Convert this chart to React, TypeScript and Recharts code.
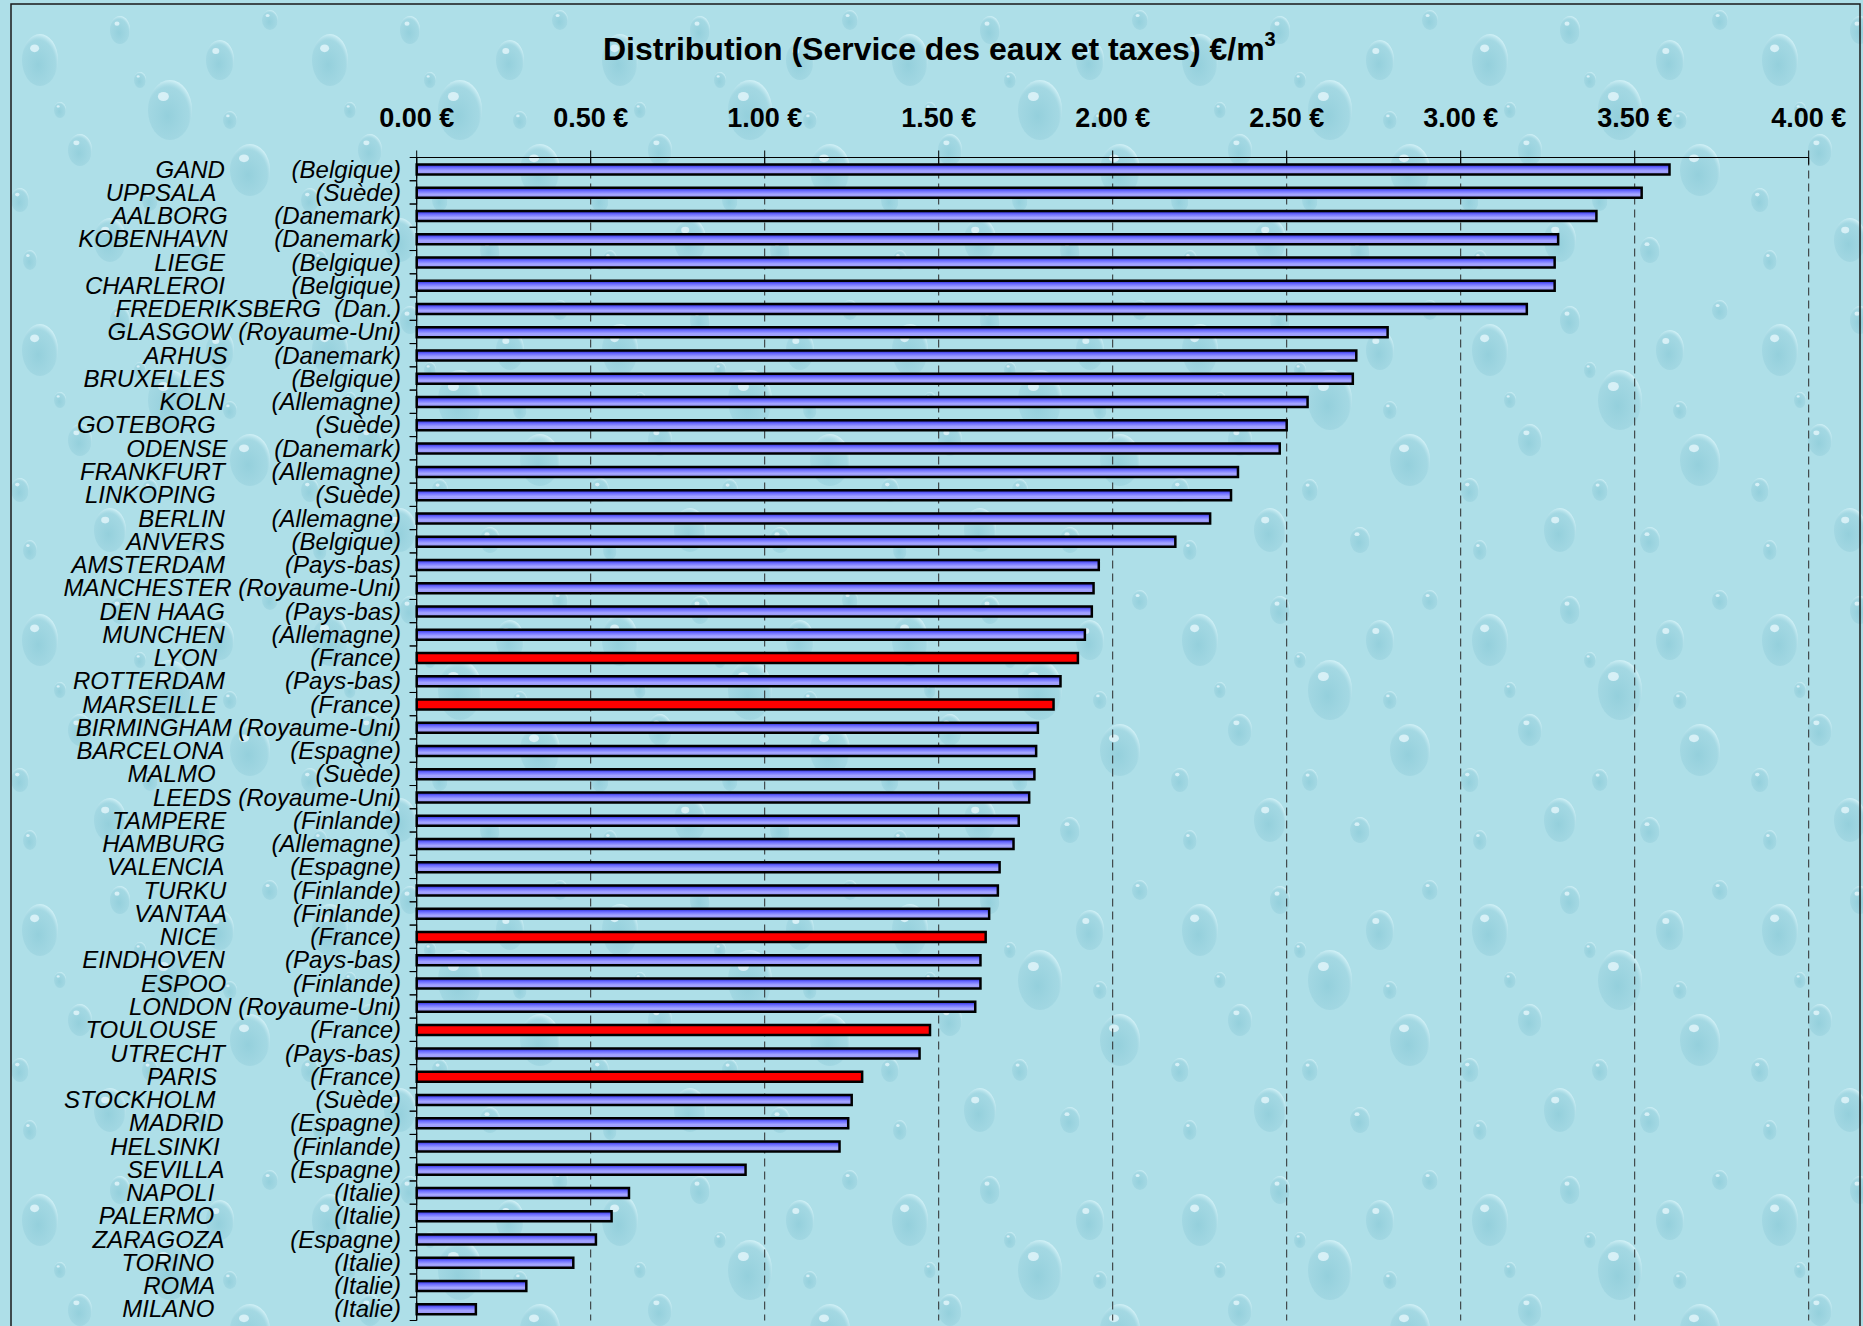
import React from 'react';
import { BarChart, Bar, XAxis, YAxis, CartesianGrid, Cell } from 'recharts';

const W = 1863;
const H = 1326;
const PLOT_LEFT = 416.7;
const PLOT_RIGHT = 1808.7;
const PLOT_TOP = 157.5;
const PLOT_BOTTOM = 1320.5;
const X_AXIS_H = 40;
const FONT = '"Liberation Sans", Arial, Helvetica, sans-serif';

const cities = [
  'GAND', 'UPPSALA', 'AALBORG', 'KOBENHAVN', 'LIEGE', 'CHARLEROI', 'FREDERIKSBERG', 'GLASGOW',
  'ARHUS', 'BRUXELLES', 'KOLN', 'GOTEBORG', 'ODENSE', 'FRANKFURT', 'LINKOPING', 'BERLIN',
  'ANVERS', 'AMSTERDAM', 'MANCHESTER', 'DEN HAAG', 'MUNCHEN', 'LYON', 'ROTTERDAM', 'MARSEILLE',
  'BIRMINGHAM', 'BARCELONA', 'MALMO', 'LEEDS', 'TAMPERE', 'HAMBURG', 'VALENCIA', 'TURKU',
  'VANTAA', 'NICE', 'EINDHOVEN', 'ESPOO', 'LONDON', 'TOULOUSE', 'UTRECHT', 'PARIS',
  'STOCKHOLM', 'MADRID', 'HELSINKI', 'SEVILLA', 'NAPOLI', 'PALERMO', 'ZARAGOZA', 'TORINO',
  'ROMA', 'MILANO',
];

const countries = [
  'Belgique', 'Suède', 'Danemark', 'Danemark', 'Belgique', 'Belgique', 'Dan.', 'Royaume-Uni',
  'Danemark', 'Belgique', 'Allemagne', 'Suède', 'Danemark', 'Allemagne', 'Suède', 'Allemagne',
  'Belgique', 'Pays-bas', 'Royaume-Uni', 'Pays-bas', 'Allemagne', 'France', 'Pays-bas', 'France',
  'Royaume-Uni', 'Espagne', 'Suède', 'Royaume-Uni', 'Finlande', 'Allemagne', 'Espagne', 'Finlande',
  'Finlande', 'France', 'Pays-bas', 'Finlande', 'Royaume-Uni', 'France', 'Pays-bas', 'France',
  'Suède', 'Espagne', 'Finlande', 'Espagne', 'Italie', 'Italie', 'Espagne', 'Italie',
  'Italie', 'Italie',
];

// number of blank characters between city and country in the original label text
const labelSpaces = [
  10, 15, 7, 7, 10, 10, 2, 1,
  7, 10, 7, 15, 7, 7, 15, 7,
  10, 9, 1, 9, 7, 14, 9, 14,
  1, 10, 15, 1, 10, 7, 10, 10,
  10, 14, 9, 10, 1, 14, 9, 14,
  15, 10, 11, 10, 18, 18, 10, 18,
  18, 18,
];

const values = [
  3.60, 3.52, 3.39, 3.28, 3.27, 3.27, 3.19, 2.79,
  2.70, 2.69, 2.56, 2.50, 2.48, 2.36, 2.34, 2.28,
  2.18, 1.96, 1.945, 1.94, 1.92, 1.90, 1.85, 1.83,
  1.785, 1.78, 1.775, 1.76, 1.73, 1.715, 1.675, 1.67,
  1.645, 1.635, 1.62, 1.62, 1.605, 1.475, 1.445, 1.28,
  1.25, 1.24, 1.215, 0.945, 0.61, 0.56, 0.515, 0.45,
  0.315, 0.17,
];

const xTicks = [0, 0.5, 1, 1.5, 2, 2.5, 3, 3.5, 4];
const highlightCountry = 'France';
const titleText = 'Distribution (Service des eaux et taxes) €/m';

const data = cities.map((c, i) => ({
  label: c + ' '.repeat(labelSpaces[i]) + '(' + countries[i] + ')',
  country: countries[i],
  value: values[i],
}));

const BAND = (PLOT_BOTTOM - PLOT_TOP) / cities.length;

const XTick = (props: any) => {
  const { x, payload } = props;
  const y = PLOT_TOP;
  return (
    <g>
      <line x1={x} x2={x} y1={y - 7} y2={y + 7} stroke="#000" strokeWidth={1} />
      <text x={x} y={y - 31} textAnchor="middle" fontFamily={FONT} fontWeight="bold" fontSize={27} fill="#000">
        {payload.value.toFixed(2) + ' €'}
      </text>
    </g>
  );
};

const YTick = (props: any) => {
  const { y, payload } = props;
  const half = BAND / 2;
  return (
    <g>
      <line x1={PLOT_LEFT - 7} x2={PLOT_LEFT} y1={y - half} y2={y - half} stroke="#000" strokeWidth={1} />
      <line x1={PLOT_LEFT - 7} x2={PLOT_LEFT} y1={y + half} y2={y + half} stroke="#000" strokeWidth={1} />
      <text
        x={401}
        y={y + 8.5}
        textAnchor="end"
        fontFamily={FONT}
        fontStyle="italic"
        fontSize={24}
        fill="#000"
        xmlSpace="preserve"
        style={{ whiteSpace: 'pre' }}
      >
        {payload.value}
      </text>
    </g>
  );
};

const drops = [
  [40, 60, 18, 26], [120, 30, 10, 14], [170, 110, 22, 30], [80, 150, 12, 16], [20, 200, 9, 12],
  [150, 200, 8, 11], [220, 60, 14, 20], [250, 170, 20, 26], [110, 240, 16, 22], [200, 250, 10, 13],
  [60, 110, 6, 8], [230, 120, 7, 9], [30, 260, 7, 10], [270, 20, 8, 10], [140, 80, 6, 8],
];

const Background = () => (
  <svg width={W} height={H} style={{ position: 'absolute', left: 0, top: 0 }}>
    <defs>
      <linearGradient id="barGrad" x1="0" y1="0" x2="0" y2="1">
        <stop offset="0%" stopColor="#2424d0" />
        <stop offset="30%" stopColor="#6a6aff" />
        <stop offset="65%" stopColor="#a6a6ff" />
        <stop offset="100%" stopColor="#9090f0" />
      </linearGradient>
      <radialGradient id="dropGrad" cx="0.45" cy="0.6" r="0.6">
        <stop offset="0%" stopColor="#7fc3d2" stopOpacity={0.55} />
        <stop offset="80%" stopColor="#8fcbd9" stopOpacity={0.35} />
        <stop offset="100%" stopColor="#e6fbff" stopOpacity={0.6} />
      </radialGradient>
      <pattern id="water" x="0" y="0" width="290" height="290" patternUnits="userSpaceOnUse">
        <rect width="290" height="290" fill="#aedfe8" />
        {drops.map(([cx, cy, rx, ry], i) => (
          <g key={i}>
            <ellipse cx={cx} cy={cy} rx={rx} ry={ry} fill="url(#dropGrad)" />
            <ellipse cx={cx - rx * 0.3} cy={cy - ry * 0.45} rx={rx * 0.25} ry={ry * 0.15} fill="#eefcff" opacity={0.7} />
          </g>
        ))}
      </pattern>
    </defs>
    <rect width={W} height={H} fill="url(#water)" />
    <rect x={11} y={4} width={1849} height={H + 10} fill="none" stroke="#1a1a1a" strokeWidth={1.5} />
    <text x={603} y={60} fontFamily={FONT} fontWeight="bold" fontSize={32} fill="#000">
      {titleText}
      <tspan fontSize={20} dy={-14}>3</tspan>
    </text>
  </svg>
);

export default function App() {
  return (
    <div style={{ position: 'absolute', left: 0, top: 0, width: W, height: H }}>
      <Background />
      <div style={{ position: 'absolute', left: 0, top: 0 }}>
        <BarChart
          width={W}
          height={H}
          data={data}
          layout="vertical"
          margin={{ top: PLOT_TOP - X_AXIS_H, right: W - PLOT_RIGHT, bottom: H - PLOT_BOTTOM, left: 0 }}
          barCategoryGap={0}
        >
          <CartesianGrid horizontal={false} vertical stroke="#2a2a2a" strokeDasharray="8 5" strokeWidth={1} />
          <XAxis
            type="number"
            orientation="top"
            domain={[0, 4]}
            ticks={xTicks}
            interval={0}
            height={X_AXIS_H}
            tickLine={false}
            tickSize={0}
            tickMargin={0}
            axisLine={{ stroke: '#000', strokeWidth: 1 }}
            tick={<XTick />}
          />
          <YAxis
            type="category"
            dataKey="label"
            width={PLOT_LEFT}
            interval={0}
            tickLine={false}
            axisLine={{ stroke: '#000', strokeWidth: 1.2 }}
            tick={<YTick />}
          />
          <Bar dataKey="value" barSize={10} stroke="#000" strokeWidth={2.5} isAnimationActive={false}>
            {data.map((d, i) => (
              <Cell key={i} fill={d.country === highlightCountry ? '#ff0000' : 'url(#barGrad)'} />
            ))}
          </Bar>
        </BarChart>
      </div>
    </div>
  );
}
